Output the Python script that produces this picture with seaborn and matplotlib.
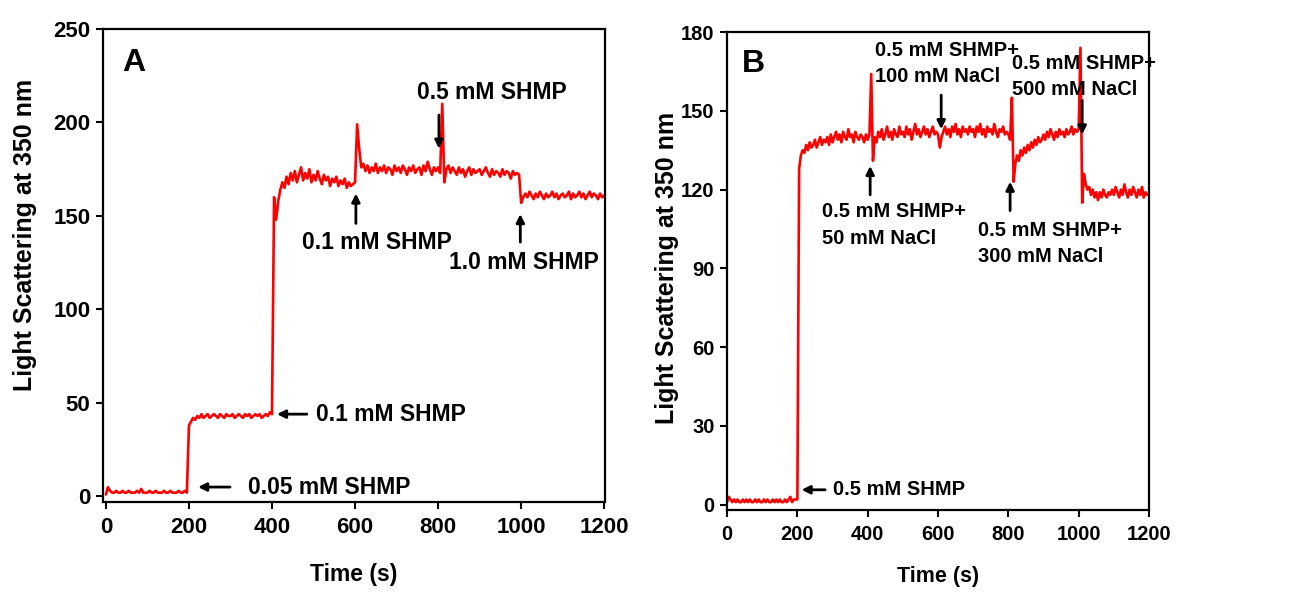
import numpy as np
import matplotlib
matplotlib.use("Agg")
import matplotlib.pyplot as plt
import seaborn as sns

# time grid of the recordings (s)
time_s = np.arange(0, 1205, 5)

# panel A: stepwise SHMP additions
signal_a = [
    1, 5, 3, 2, 2, 3, 2, 2, 3, 2, 2, 3, 2, 2, 2, 3, 2, 4, 2, 2,
    2, 3, 2, 2, 3, 2, 2, 2, 3, 2, 2, 3, 2, 2, 2, 3, 2, 2, 3, 2,
    38, 40, 42, 41, 43, 42, 44, 42, 43, 44, 42, 43, 44, 43, 42, 44, 43, 42, 44, 43,
    43, 44, 42, 43, 44, 43, 42, 44, 43, 44, 42, 43, 44, 43, 44, 42, 43, 44, 43, 45,
    44, 160, 148, 158, 164, 168, 165, 171, 167, 173, 169, 174, 168, 172, 176, 169, 173, 170, 175, 168,
    172, 169, 174, 170, 167, 172, 169, 171, 166, 170, 168, 171, 166, 169, 167, 170, 165, 168, 166, 167,
    168, 199, 186, 176, 178, 174, 177, 173, 176, 174, 178, 173, 176, 174, 177, 173, 176, 175, 172, 177,
    174, 176, 173, 177, 175, 172, 176, 174, 177, 173, 175, 176, 172, 177, 174, 179, 175, 172, 176, 174,
    176, 173, 210, 168, 175, 177, 173, 176, 174, 172, 176, 173, 175, 171, 174, 176, 172, 175, 173, 174,
    175, 172, 174, 176, 173, 171, 175, 172, 174, 173, 171, 175, 172, 174, 173, 170, 174, 172, 173, 172,
    157, 160, 162, 160, 163, 161, 159, 162, 160, 163, 161, 159, 162, 160, 161, 163, 160, 162, 159, 161,
    162, 160, 161, 163, 159, 162, 160, 161, 163, 160, 162, 159, 161, 163, 160, 162, 161, 159, 162, 160,
    161,
]

# panel B: SHMP + NaCl additions
signal_b = [
    1, 3, 2, 1, 2, 1, 2, 1, 1, 2, 1, 2, 1, 2, 1, 1, 2, 1, 2, 1,
    1, 2, 1, 2, 1, 1, 2, 1, 2, 1, 2, 1, 1, 2, 1, 2, 3, 1, 2, 2,
    2, 128, 133, 135, 134, 137, 135, 138, 136, 137, 139, 136, 138, 140, 137, 139, 138, 140, 137, 141,
    138, 140, 142, 139, 141, 138, 142, 140, 139, 143, 140, 141, 138, 142, 140, 139, 141, 140, 138, 141,
    139, 141, 164, 131, 140, 138, 142, 140, 143, 139, 141, 144, 140, 142, 139, 143, 141, 140, 144, 141,
    142, 140, 144, 141, 143, 139, 142, 145, 141, 143, 140, 142, 144, 141, 143, 140, 142, 144, 141, 142,
    141, 136, 140, 142, 144, 141, 143, 140, 144, 142, 145, 141, 143, 140, 144, 142, 143, 141, 144, 142,
    143, 140, 144, 142, 145, 141, 143, 140, 144, 142, 143, 141, 145, 142, 140, 143, 142, 144, 141, 142,
    141, 139, 155, 123, 130, 133, 131, 135, 133, 136, 134, 137, 135, 138, 136, 139, 137, 140, 138, 139,
    141, 139, 142, 140, 143, 141, 139, 142, 140, 143, 141, 142, 140, 143, 141, 142, 144, 141, 143, 142,
    143, 174, 115, 126, 122, 120, 121, 118, 120, 117, 119, 116, 119, 117, 120, 118, 117, 119, 118, 120,
    118, 121, 119, 117, 120, 118, 122, 119, 117, 120, 118, 121, 119, 117, 120, 118, 121, 117, 119, 118,
    118,
]

# annotations: (label, text x, text y, ha, arrow tail, arrow head)
notes_a = [
    ("0.05 mM SHMP", 342, 5, "left", (299, 5), (222, 5)),
    ("0.1 mM SHMP", 506, 44, "left", (484, 44), (412, 44)),
    ("0.1 mM SHMP", 653, 136, "center", (602, 146), (602, 162)),
    ("1.0 mM SHMP", 1007, 125, "center", (998, 136), (998, 151)),
    ("0.5 mM SHMP", 930, 216, "center", (802, 204), (802, 186)),
]
notes_b = [
    ("0.5 mM SHMP", 302, 5.7, "left", (279, 5.7), (212, 5.7)),
    ("0.5 mM SHMP+\n50 mM NaCl", 270, 106.5, "left", (407, 118), (407, 129)),
    ("0.5 mM SHMP+\n100 mM NaCl", 421, 168, "left", (609, 156), (609, 143)),
    ("0.5 mM SHMP+\n300 mM NaCl", 714, 99.5, "left", (805, 112), (805, 123)),
    ("0.5 mM SHMP+\n500 mM NaCl", 811, 163, "left", (1010, 154), (1010, 141)),
]

sns.set_style("ticks")
plt.rcParams["font.family"] = ["Liberation Sans", "DejaVu Sans"]
plt.rcParams["font.weight"] = "bold"
plt.rcParams["axes.labelweight"] = "bold"
plt.rcParams["text.color"] = "black"
plt.rcParams["axes.labelcolor"] = "black"
plt.rcParams["xtick.color"] = "black"
plt.rcParams["ytick.color"] = "black"

fig = plt.figure(figsize=(13.02, 5.92), dpi=100)
ax_a = fig.add_axes([0.0791, 0.152, 0.3856, 0.799])
ax_b = fig.add_axes([0.5584, 0.1385, 0.3241, 0.8074])


def draw_panel(ax, signal, notes, letter, letter_xy, xlim, ylim, yticks,
               tick_fs, note_fs, xlab_fs, ylab_fs, xlab_y, ylab_xy, gap):
    sns.lineplot(x=time_s, y=signal, ax=ax, color="#ff0000", linewidth=1.9)
    ax.set_xlim(*xlim)
    ax.set_ylim(*ylim)
    ax.set_xticks([0, 200, 400, 600, 800, 1000, 1200])
    ax.set_yticks(yticks)
    ax.set_xlabel("Time (s)", fontsize=xlab_fs, fontweight="bold")
    ax.set_ylabel("Light Scattering at 350 nm", fontsize=ylab_fs, fontweight="bold")
    ax.xaxis.label.set_va("center")
    ax.yaxis.label.set_va("center")
    ax.xaxis.set_label_coords(0.5, xlab_y)
    ax.yaxis.set_label_coords(*ylab_xy)
    for side in ax.spines.values():
        side.set_linewidth(1.6)
        side.set_color("black")
    ax.tick_params(direction="out", length=5, width=1.5, labelsize=tick_fs,
                   top=False, right=False, pad=4)
    ax.tick_params(axis="x", pad=6)
    for lab in ax.get_xticklabels() + ax.get_yticklabels():
        lab.set_fontweight("bold")
    for text, tx, ty, ha, tail, head in notes:
        ax.text(tx, ty, text, ha=ha, va="center", fontsize=note_fs,
                fontweight="bold", linespacing=gap)
        ax.annotate("", xy=head, xytext=tail,
                    arrowprops=dict(arrowstyle="-|>", color="black", lw=2,
                                    mutation_scale=12, shrinkA=0, shrinkB=0))
    ax.text(letter_xy[0], letter_xy[1], letter, ha="left", va="center",
            fontsize=23, fontweight="bold")


draw_panel(ax_a, signal_a, notes_a, "A", (39, 232), (-7, 1202), (-3, 250),
           [0, 50, 100, 150, 200, 250],
           tick_fs=16, note_fs=16.5, xlab_fs=16.5, ylab_fs=18,
           xlab_y=-0.154, ylab_xy=(-0.155, 0.564), gap=1.6)
draw_panel(ax_b, signal_b, notes_b, "B", (43, 168), (0, 1200), (-2, 180),
           [0, 30, 60, 90, 120, 150, 180],
           tick_fs=14.5, note_fs=14.5, xlab_fs=15.5, ylab_fs=18,
           xlab_y=-0.140, ylab_xy=(-0.142, 0.506), gap=1.5)

fig.savefig("out.png", dpi=100)
